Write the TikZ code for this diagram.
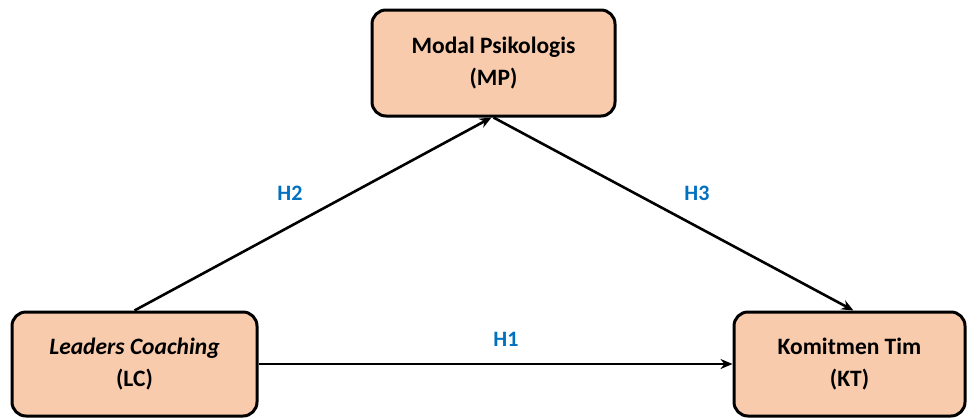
\documentclass[tikz,border=0pt]{standalone}
\usepackage{fontspec}
\setmainfont{Carlito}
\usetikzlibrary{arrows.meta}

\definecolor{boxfill}{HTML}{F8CBAD}
\definecolor{hblue}{HTML}{0070C0}

\tikzset{
    varbox/.style={draw, line width=3pt, rounded corners=14pt, fill=boxfill,
        align=center, inner sep=0pt, font=\fontsize{23.5}{32}\selectfont\bfseries},
    path/.style={line width=2.6pt, -{Stealth[length=12pt,width=10pt]}},
    hyp/.style={text=hblue, font=\fontsize{22}{24}\selectfont\bfseries}
}

\begin{document}
\begin{tikzpicture}[x=1pt,y=-1pt]
        \useasboundingbox (0,0) rectangle (968,418);
        \node[varbox, minimum width=243pt, minimum height=106pt] (mp) at (493.5,63) {Modal Psikologis\\(MP)};
        \node[varbox, minimum width=245pt, minimum height=104pt] (lc) at (134.5,364) {\textit{Leaders Coaching}\\(LC)};
        \node[varbox, minimum width=231pt, minimum height=104pt] (kt) at (849.5,364) {Komitmen Tim\\(KT)};
        \draw[path] (lc.north) -- ([xshift=-2pt]mp.south);
        \draw[path] (mp.south) -- ([xshift=4pt]kt.north);
        \draw[path] (lc.east) -- (kt.west);
        \node[hyp] (h2) at (290,193) {H2};
        \node[hyp] (h3) at (697,193) {H3};
        \node[hyp] (h1) at (506,339) {H1};
    \end{tikzpicture}
\end{document}
